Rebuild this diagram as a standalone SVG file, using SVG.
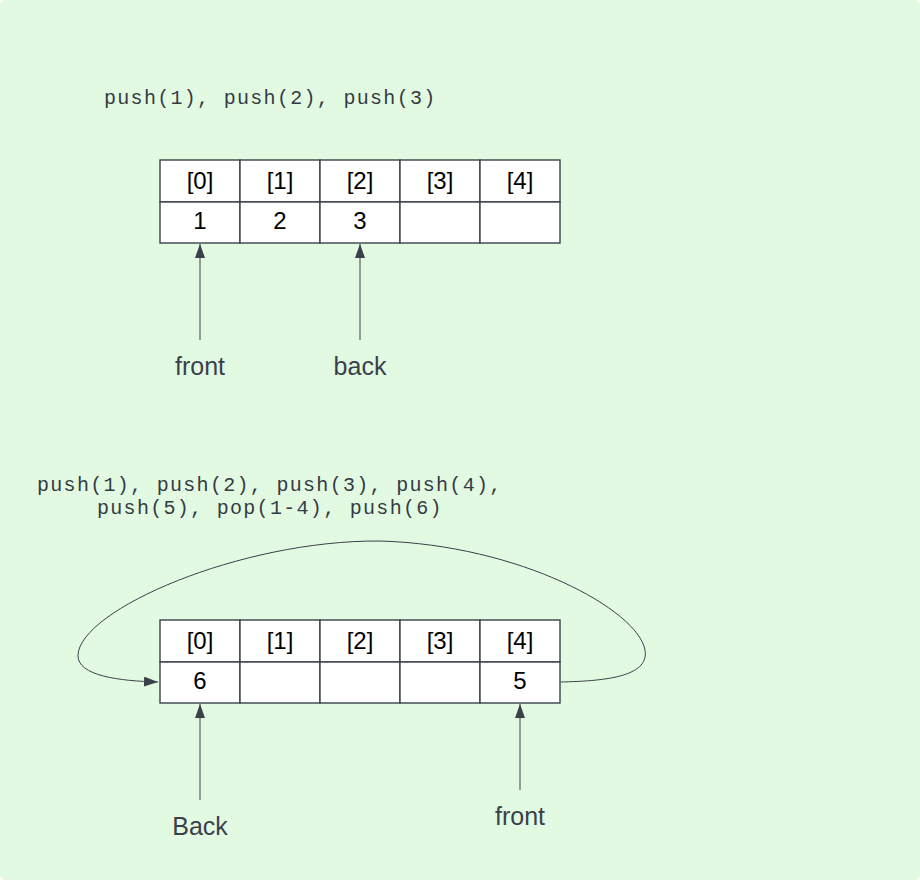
<svg xmlns="http://www.w3.org/2000/svg" width="920" height="880" viewBox="0 0 920 880">
<defs>
<style>
.code{font-family:"Liberation Mono","DejaVu Sans Mono",monospace;font-size:20px;fill:#343b45;letter-spacing:1.3px}
.cell{fill:#ffffff;stroke:#3a414a;stroke-width:1.4}
.ct{font-family:"Liberation Sans",Arial,sans-serif;font-size:24px;fill:#000000;text-anchor:middle}
.lbl{font-family:"Liberation Sans",Arial,sans-serif;font-size:25px;fill:#3a414a;text-anchor:middle}
.conn{fill:none;stroke:#3a414a;stroke-width:1}
</style>
<marker id="ah" viewBox="0 0 14 10" refX="14" refY="5" markerWidth="14" markerHeight="10" markerUnits="userSpaceOnUse" orient="auto">
<path d="M0,0 L14,5 L0,10 Z" fill="#3a414a"/>
</marker>
</defs>
<rect x="0" y="0" width="920" height="880" fill="#ffffff"/>
<rect x="0" y="0" width="920" height="880" rx="5" fill="#e3fae2"/>

<g id="caption1">
<text class="code" x="104" y="104">push(1), push(2), push(3)</text>
</g>

<g id="array1">
<rect class="cell" x="160" y="160" width="80" height="42"/>
<rect class="cell" x="240" y="160" width="80" height="42"/>
<rect class="cell" x="320" y="160" width="80" height="42"/>
<rect class="cell" x="400" y="160" width="80" height="42"/>
<rect class="cell" x="480" y="160" width="80" height="42"/>
<rect class="cell" x="160" y="202" width="80" height="41"/>
<rect class="cell" x="240" y="202" width="80" height="41"/>
<rect class="cell" x="320" y="202" width="80" height="41"/>
<rect class="cell" x="400" y="202" width="80" height="41"/>
<rect class="cell" x="480" y="202" width="80" height="41"/>
<text class="ct" x="200" y="189">[0]</text>
<text class="ct" x="280" y="189">[1]</text>
<text class="ct" x="360" y="189">[2]</text>
<text class="ct" x="440" y="189">[3]</text>
<text class="ct" x="520" y="189">[4]</text>
<text class="ct" x="200" y="229">1</text>
<text class="ct" x="280" y="229">2</text>
<text class="ct" x="360" y="229">3</text>
</g>

<g id="label-front1"><text class="lbl" x="200" y="375">front</text></g>
<g id="label-back1"><text class="lbl" x="360" y="375">back</text></g>

<g id="caption2">
<text class="code" x="37" y="491">push(1), push(2), push(3), push(4),</text>
<text class="code" x="97" y="514">push(5), pop(1-4), push(6)</text>
</g>

<g id="array2">
<rect class="cell" x="160" y="620" width="80" height="42"/>
<rect class="cell" x="240" y="620" width="80" height="42"/>
<rect class="cell" x="320" y="620" width="80" height="42"/>
<rect class="cell" x="400" y="620" width="80" height="42"/>
<rect class="cell" x="480" y="620" width="80" height="42"/>
<rect class="cell" x="160" y="662" width="80" height="41"/>
<rect class="cell" x="240" y="662" width="80" height="41"/>
<rect class="cell" x="320" y="662" width="80" height="41"/>
<rect class="cell" x="400" y="662" width="80" height="41"/>
<rect class="cell" x="480" y="662" width="80" height="41"/>
<text class="ct" x="200" y="649">[0]</text>
<text class="ct" x="280" y="649">[1]</text>
<text class="ct" x="360" y="649">[2]</text>
<text class="ct" x="440" y="649">[3]</text>
<text class="ct" x="520" y="649">[4]</text>
<text class="ct" x="200" y="689">6</text>
<text class="ct" x="520" y="689">5</text>
</g>

<g id="label-back2"><text class="lbl" x="200" y="835">Back</text></g>
<g id="label-front2"><text class="lbl" x="520" y="825">front</text></g>

<g id="connectors">
<line class="conn" x1="200" y1="340" x2="200" y2="244" marker-end="url(#ah)"/>
<line class="conn" x1="360" y1="340" x2="360" y2="244" marker-end="url(#ah)"/>
<line class="conn" x1="200" y1="800" x2="200" y2="704" marker-end="url(#ah)"/>
<line class="conn" x1="520" y1="790" x2="520" y2="704" marker-end="url(#ah)"/>
<path class="conn" d="M561,682 C600,681 650,678 645,650 C638,610 520,545 380,541 C240,540 80,610 78,655 C77,676 120,681 158,682" marker-end="url(#ah)"/>
</g>
</svg>
